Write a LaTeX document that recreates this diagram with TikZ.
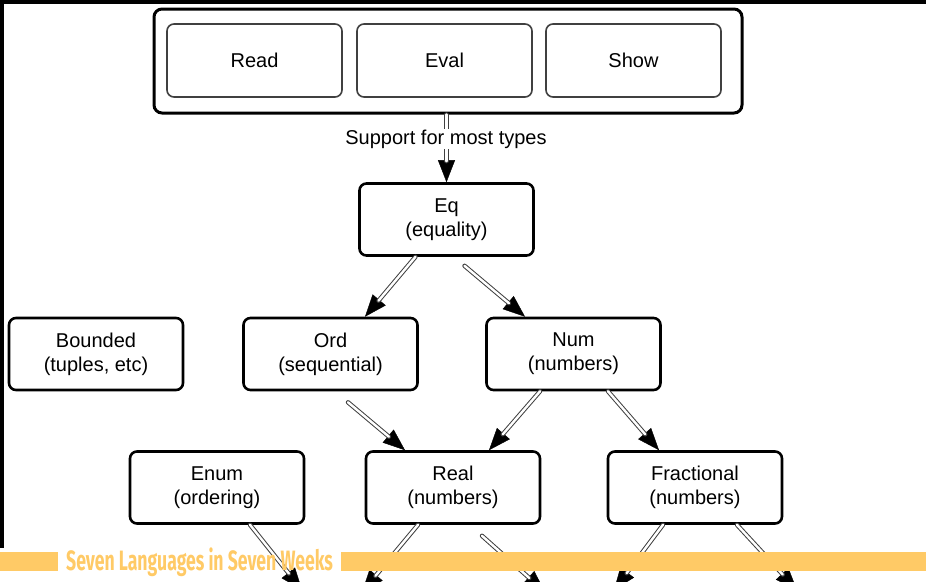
\documentclass[tikz,border=0pt]{standalone}
\usepackage{fontspec}
\setmainfont{Liberation Sans}
\newfontfamily\bannerfont{Fira Sans}
\usetikzlibrary{arrows.meta}
\definecolor{banner}{HTML}{FFCA66}

\begin{document}
\begin{tikzpicture}[x=1pt,y=-1pt]
\tikzset{every node/.style = {font = \fontsize{20}{24}\selectfont, align = center},
  ClassStyle/.style = {draw, line width = 2.6pt, rounded corners = 7pt, minimum width = 174pt, minimum height = 72pt, inner sep = 0pt},
  PartStyle/.style = {draw = black!75, line width = 1.6pt, rounded corners = 7pt, minimum width = 175pt, minimum height = 73pt, inner sep = 0pt},
  ShaftStyle/.style = {draw = black!75, line width = 1pt, double = white, double distance = 2.4pt, line cap = round, shorten > = 21pt},
  HeadStyle/.style = {-{Triangle[length = 22pt, width = 17pt]}, line width = 0.4pt}}
\useasboundingbox (0,0) rectangle (926,581); \clip (0,0) rectangle (926,581);
\fill[white] (0,0) rectangle (926,581);
\node[draw, line width = 3pt, rounded corners = 8pt, minimum width = 588pt, minimum height = 104pt] (repl) at (448,61) {};
\node[PartStyle] (read) at (254.5,60.5) {Read} ; \node[PartStyle] (eval) at (444.5,60.5) {Eval} ; \node[PartStyle] (show) at (633.5,60.5) {Show};
\node[ClassStyle] (eq) at (446.5,219.5) {Eq\\(equality)};
\node[ClassStyle] (bounded) at (96,354) {Bounded\\(tuples, etc)} ; \node[ClassStyle] (ord) at (330.5,354) {Ord\\(sequential)} ; \node[ClassStyle] (num) at (573.5,354) {Num\\(numbers)};
\node[ClassStyle] (enum) at (217,487.5) {Enum\\(ordering)} ; \node[ClassStyle] (real) at (453,487.5) {Real\\(numbers)} ; \node[ClassStyle] (frac) at (695,487.5) {Fractional\\(numbers)};

\coordinate (repl-eq) at (repl.south -| eq.north);
\coordinate (eq-o) at ([xshift=-31pt]eq.south) ; \coordinate (eq-n) at ([xshift=18pt,yshift=-9pt]eq.south);
\coordinate (ord-r) at ([xshift=17.5pt,yshift=-11pt]ord.south) ; \coordinate (num-r) at ([xshift=-33.5pt]num.south) ; \coordinate (num-f) at ([xshift=34.5pt]num.south);
\coordinate (enum-d) at ([xshift=33pt]enum.south) ; \coordinate (real-l) at ([xshift=-35pt]real.south) ; \coordinate (real-r) at ([xshift=29pt,yshift=-11pt]real.south);
\coordinate (frac-l) at ([xshift=-32pt]frac.south) ; \coordinate (frac-r) at ([xshift=42pt]frac.south);
\coordinate (ord-in) at ([xshift=34.5pt]ord.north) ; \coordinate (num-in) at ([xshift=-48.5pt]num.north);
\coordinate (real-o) at ([xshift=-48pt]real.north) ; \coordinate (real-n) at ([xshift=36pt]real.north) ; \coordinate (frac-in) at ([xshift=-36pt]frac.north);
\coordinate (out1) at (302,590) ; \coordinate (out2) at (362,592) ; \coordinate (out3) at (545,592) ; \coordinate (out4) at (614,590) ; \coordinate (out5) at (797,590);

\foreach \s/\t in {repl-eq/eq.north, eq-o/ord-in, eq-n/num-in, ord-r/real-o, num-r/real-n, num-f/frac-in, enum-d/out1, real-l/out2, real-r/out3, frac-l/out4, frac-r/out5}
  {\draw[HeadStyle] (\s) -- (\t); \draw[ShaftStyle] (\s) -- (\t);}
\node[fill = white, inner sep = 1pt] (support) at (446,139) {Support for most types};

\fill[banner] (0,552) rectangle (58,571) ; \fill[banner] (341,552) rectangle (926,571);
\node[text = banner, anchor = base west, inner sep = 0pt, font = \bannerfont\bfseries\fontsize{28}{28}\selectfont] (title) at (66,570.5) {\scalebox{0.63}[1]{Seven Languages in Seven Weeks}};
\fill[black] (0,0) rectangle (926,4) ; \fill[black] (0,0) rectangle (4,548);
\end{tikzpicture}
\end{document}
